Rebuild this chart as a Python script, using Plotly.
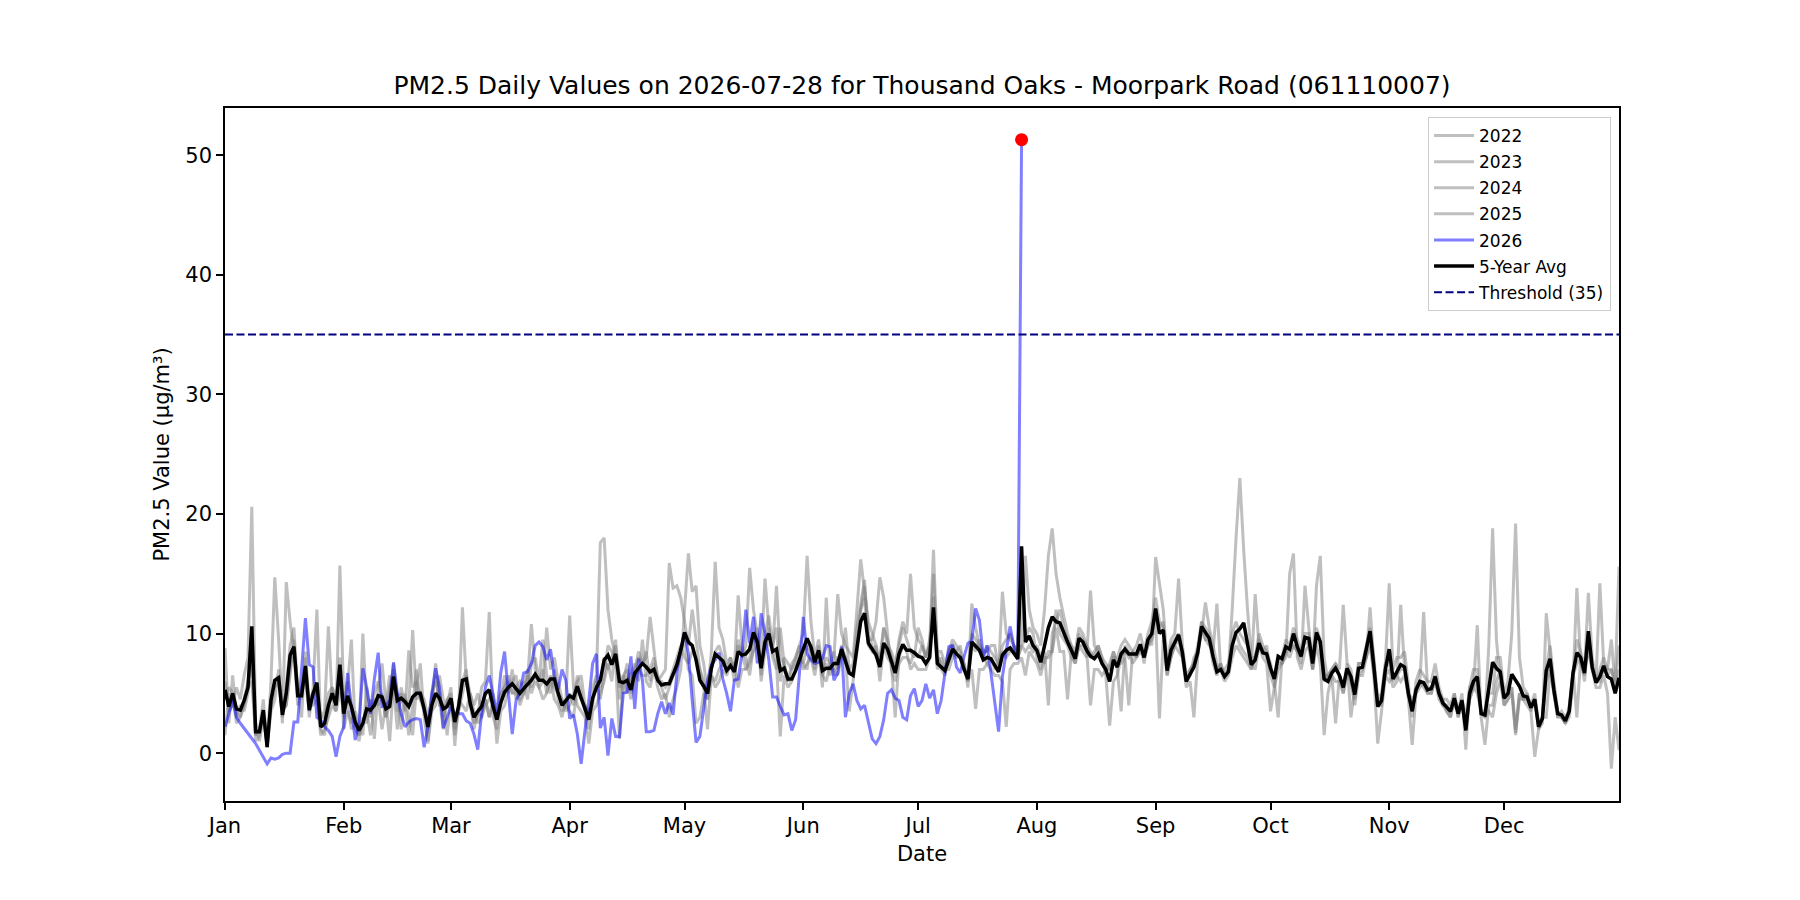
import pandas as pd
import plotly.graph_objects as go

TITLE = "PM2.5 Daily Values on 2026-07-28 for Thousand Oaks - Moorpark Road (061110007)"
YEAR_AXIS = 2026
THRESHOLD = 35

# ---- gray history lines (one value per day, Jan..Dec; one row per month) ----
y2022 = [
    6.0,3.5,4.0,5.5,4.5,6.5,8.0,20.6,2.5,1.0,3.0,0.8,4.0,5.5,6.0,3.0,5.5,9.0,10.5,5.0,4.5,8.0,3.0,5.5,12.0,2.0,1.5,3.5,5.5,4.0,6.0,
    3.0,5.5,9.5,2.0,1.5,2.5,4.0,3.0,5.0,6.0,4.5,3.0,4.0,7.5,4.5,5.0,3.5,8.6,5.5,6.0,4.5,3.5,2.0,5.0,6.0,5.0,3.0,4.5,
    5.0,2.0,4.0,6.0,7.0,4.0,2.5,3.0,5.5,6.0,11.8,3.0,2.0,4.5,6.5,5.0,7.0,4.5,5.5,6.0,4.5,7.5,8.0,6.0,9.5,6.5,5.0,7.0,4.5,3.5,4.0,
    5.0,4.0,6.5,5.0,3.5,2.0,4.5,6.0,5.5,8.0,7.0,8.0,9.0,6.5,5.0,6.5,4.5,7.0,8.0,7.5,8.5,6.0,7.5,6.0,6.5,7.0,15.9,13.8,14.0,13.0,
    11.0,9.0,12.0,9.5,7.0,6.0,4.5,7.0,8.5,9.0,8.0,7.0,8.0,6.0,9.5,8.0,9.0,15.5,12.0,10.0,6.5,10.0,11.5,9.0,10.5,6.0,8.0,7.5,7.0,8.0,9.0,
    10.0,16.5,11.0,8.0,9.5,7.0,8.0,7.5,8.5,7.0,9.0,8.0,7.0,6.5,9.5,12.0,14.0,10.0,9.0,8.5,8.0,10.5,9.5,8.0,7.0,9.5,11.0,10.0,15.0,10.5,
    9.5,9.0,8.0,9.0,15.0,8.0,7.5,7.0,8.5,9.5,9.0,8.5,7.0,6.5,10.0,9.5,9.0,8.0,9.0,8.5,8.0,7.5,9.0,9.5,10.0,9.0,8.5,9.5,16.5,12.0,10.5,
    10.0,9.0,12.0,16.5,18.8,15.0,13.0,11.5,10.0,9.0,8.0,10.0,9.5,9.0,8.5,8.0,9.0,8.0,7.5,7.0,8.0,8.0,9.0,9.5,9.0,8.5,9.0,10.0,8.5,10.0,11.0,
    13.0,11.0,10.5,7.0,9.0,9.5,10.0,8.5,6.0,7.0,7.5,9.0,11.0,10.5,10.0,8.0,7.0,7.5,6.5,7.0,12.0,18.0,23.0,17.0,12.0,8.0,8.0,10.0,9.0,8.5,
    7.5,6.0,3.0,8.0,9.5,9.0,10.5,9.5,8.5,10.0,10.0,8.0,10.5,9.5,6.5,6.5,7.0,7.5,7.0,12.4,7.5,7.0,5.0,7.5,7.5,9.0,10.5,8.0,4.5,5.0,7.5,
    14.2,7.0,8.0,8.0,8.5,5.5,3.0,6.0,7.0,6.5,6.0,6.0,7.5,5.5,4.5,4.5,4.0,5.0,3.5,5.0,0.3,5.5,7.0,7.0,3.5,3.5,5.0,5.0,8.0,8.0,
    5.0,6.0,10.0,19.2,8.0,5.5,5.0,4.0,5.0,2.5,3.0,7.0,9.0,6.0,3.5,3.0,2.5,4.0,7.0,9.5,8.5,7.0,13.4,8.0,6.0,7.0,8.0,7.0,7.0,5.5,7.0,
]
y2023 = [
    8.8,2.5,6.5,3.0,4.0,3.5,5.0,8.5,1.5,2.0,4.5,0.5,6.0,14.7,9.5,3.5,4.0,7.0,9.0,5.5,3.0,8.5,4.0,4.0,4.5,1.5,2.0,3.0,4.0,3.5,15.7,
    4.5,6.0,3.5,3.0,1.0,3.0,2.5,4.5,1.2,5.5,7.5,4.5,1.0,6.0,5.0,2.0,5.0,3.0,1.5,5.5,7.5,3.0,0.8,3.5,4.0,6.5,4.5,1.5,
    4.5,1.5,3.5,5.0,6.5,5.0,3.5,2.5,3.0,4.0,4.5,5.0,0.8,3.5,4.0,5.5,6.0,6.5,4.0,5.0,6.0,10.8,7.0,5.5,4.5,5.0,6.5,4.5,4.0,3.0,4.5,
    11.5,5.5,4.0,3.5,3.0,0.8,3.5,4.0,5.0,6.0,7.5,6.0,9.5,4.5,6.5,5.0,6.5,7.5,6.0,9.5,6.0,5.5,7.0,5.5,4.5,5.0,3.0,4.5,5.5,7.0,
    12.0,16.7,13.5,14.0,9.0,7.5,5.0,8.5,16.0,10.5,9.5,7.5,8.0,7.0,9.0,8.5,7.0,8.0,9.5,10.0,7.5,9.0,10.5,8.5,14.0,8.0,7.5,6.0,7.5,8.0,9.0,
    7.5,9.0,8.5,7.0,9.0,6.5,7.5,6.5,8.0,13.3,10.0,9.0,8.5,8.0,12.0,16.2,13.5,11.0,10.0,9.0,7.5,10.5,9.0,8.5,7.5,9.0,10.5,9.5,8.5,8.0,
    10.5,9.5,8.0,9.0,17.0,8.5,7.0,6.5,8.0,9.0,8.5,8.0,7.5,5.5,12.5,10.5,9.0,8.5,8.5,9.0,9.0,7.0,13.5,10.0,9.5,9.0,8.0,9.0,9.5,10.5,10.0,
    8.0,7.0,8.5,4.0,10.0,11.0,12.0,10.5,9.5,9.0,8.5,10.5,10.0,9.0,8.0,8.5,9.0,8.0,6.5,2.3,6.0,6.5,8.0,8.5,8.0,8.5,8.0,9.0,7.5,9.5,9.0,
    16.4,14.0,12.0,7.5,9.5,10.0,14.6,9.0,6.5,7.0,7.5,8.5,10.0,12.6,10.5,9.0,7.5,7.0,7.0,7.5,9.0,10.0,9.0,8.5,8.0,7.0,8.0,9.5,8.5,9.0,
    6.5,5.5,7.5,7.5,8.5,8.0,9.0,8.5,8.0,9.5,9.0,7.0,14.0,16.5,8.0,6.0,6.5,2.5,6.5,5.0,7.0,6.0,4.5,6.5,7.0,8.0,9.5,6.5,0.8,3.5,6.5,
    7.0,5.5,6.0,12.4,7.0,4.5,0.7,5.0,5.5,6.0,5.0,5.0,6.0,4.5,4.0,3.5,3.0,4.5,3.0,4.0,2.0,4.5,5.5,10.7,3.0,0.7,4.0,4.0,6.0,7.0,
    4.0,4.5,5.5,2.0,5.0,4.5,4.0,3.5,4.5,2.0,2.5,11.7,8.5,5.0,3.0,3.5,3.0,3.5,6.5,7.5,8.0,6.0,10.0,7.0,5.5,5.5,6.5,5.0,-1.3,3.0,0.25,
]
y2024 = [
    4.5,5.5,5.0,2.5,3.0,4.5,6.0,7.5,1.0,1.5,3.5,0.5,3.5,4.5,7.0,2.5,14.3,11.0,8.5,4.0,5.5,6.5,4.5,5.0,5.0,3.0,3.0,5.0,5.5,4.5,8.0,
    2.0,3.5,2.5,3.5,2.5,1.5,5.5,3.5,4.5,4.0,5.0,3.0,5.5,7.0,3.5,4.5,4.5,4.0,10.3,4.5,5.0,4.5,3.0,4.5,6.5,4.0,4.0,4.0,
    5.5,0.6,4.5,4.0,3.5,5.0,4.0,5.0,3.5,4.5,3.0,4.5,3.0,4.0,5.5,6.5,5.0,5.5,6.0,5.5,7.0,5.0,6.0,5.5,6.0,10.5,7.0,8.0,6.0,4.5,3.5,
    4.0,5.0,6.0,6.5,4.0,3.0,5.5,6.5,17.6,18.0,12.0,9.5,8.0,5.5,6.0,7.5,5.0,6.0,7.0,6.5,6.5,7.0,8.0,6.5,5.5,4.5,5.5,6.5,7.0,8.5,
    9.5,7.0,6.5,2.5,3.0,5.0,4.5,6.5,5.5,6.0,7.0,6.5,7.5,7.0,13.2,9.0,8.0,6.5,9.0,10.5,6.0,8.5,9.5,8.5,7.5,1.4,6.5,5.5,6.0,7.0,8.0,
    7.0,7.5,8.0,6.5,8.5,5.5,13.0,7.0,7.0,6.5,8.0,8.0,3.5,6.0,8.5,12.0,13.0,9.0,8.5,9.0,6.0,9.0,8.0,7.5,3.0,8.0,9.0,8.5,7.0,7.5,
    7.0,7.0,7.0,8.0,13.1,7.0,8.0,7.0,7.0,8.0,8.5,9.0,7.0,6.0,7.0,3.7,7.0,7.0,7.5,7.0,6.5,6.5,6.0,2.2,7.0,7.5,7.5,8.0,6.5,8.5,8.0,
    7.5,6.5,8.0,8.0,8.5,12.0,10.0,9.5,9.0,8.0,7.5,9.0,8.5,8.0,13.6,9.0,8.5,7.5,7.0,7.0,8.5,7.0,3.5,9.0,8.5,7.5,8.0,8.5,8.0,9.0,9.5,
    11.0,2.9,9.5,6.5,8.0,9.0,8.5,8.0,5.5,6.0,3.0,8.0,11.0,9.5,9.0,8.5,12.5,7.0,6.0,6.5,8.0,9.0,8.5,8.0,7.5,7.0,13.3,9.0,8.0,7.5,
    3.5,5.5,7.0,7.5,8.0,15.0,16.7,8.0,7.0,8.5,9.0,7.0,9.0,7.5,1.5,5.0,6.5,6.0,6.0,5.0,6.5,6.0,4.0,6.5,6.5,8.0,9.0,6.5,4.0,4.0,6.5,
    6.0,6.5,6.5,6.0,6.5,5.0,4.5,5.0,6.0,11.8,5.5,5.5,6.0,5.0,4.0,4.0,3.5,4.0,3.5,4.5,2.5,4.5,5.5,5.0,3.5,3.0,3.5,3.0,5.0,6.0,
    4.5,5.0,5.5,1.5,5.0,4.5,4.5,4.0,4.5,2.5,3.0,6.0,7.0,5.0,3.5,3.0,2.5,3.0,6.0,13.8,7.5,6.5,9.0,7.0,6.0,6.0,7.0,6.5,7.0,6.0,15.6,
]
y2025 = [
    1.5,5.0,4.5,3.5,3.0,4.0,5.5,6.0,1.5,2.0,3.0,0.8,4.5,6.0,6.5,3.5,4.0,6.5,9.5,5.0,5.5,6.0,3.5,4.5,5.5,3.0,3.5,10.6,4.5,3.5,5.0,
    5.0,4.0,2.0,2.5,1.5,10.0,3.5,1.5,4.0,4.5,2.0,4.0,6.5,5.5,2.0,5.5,4.0,1.5,4.0,7.0,4.5,4.0,1.0,4.0,7.5,4.5,2.0,4.5,
    4.0,2.5,3.5,12.2,6.0,4.5,2.0,3.5,3.0,4.5,3.0,4.0,3.5,5.0,5.5,6.0,5.0,5.0,4.5,5.0,6.5,5.5,6.5,6.0,7.0,5.0,6.0,5.5,5.0,4.5,4.0,
    3.5,3.0,5.5,4.5,4.0,3.5,4.0,6.5,4.5,6.5,9.0,8.5,7.5,1.2,6.5,7.0,5.5,7.0,8.5,7.5,8.0,11.4,8.5,6.0,6.0,5.5,6.0,7.0,8.0,9.0,
    8.0,7.5,8.5,8.0,7.0,5.5,2.0,6.5,6.0,7.0,7.5,7.0,7.5,7.5,5.5,7.0,7.0,7.5,8.5,9.0,8.0,14.6,10.5,8.0,7.0,10.5,7.5,6.0,7.0,7.5,8.5,
    7.5,7.0,9.0,8.0,8.5,6.5,6.0,7.5,6.5,8.0,8.0,10.5,7.0,7.5,10.5,12.5,14.5,9.5,9.5,11.0,14.7,13.0,10.0,7.0,6.0,7.5,8.0,8.0,7.5,8.5,
    8.0,9.0,8.0,9.5,11.0,8.5,8.5,7.5,8.5,9.0,8.0,8.0,7.5,6.0,9.0,8.5,9.5,8.0,7.5,8.0,7.0,7.5,8.5,8.0,8.5,9.0,8.0,9.0,8.5,9.0,8.5,
    9.0,8.0,7.5,8.5,8.5,10.5,8.5,8.5,4.5,8.5,7.5,9.0,9.0,8.5,4.0,7.0,7.0,6.5,7.0,7.5,8.5,7.5,7.5,8.0,4.0,8.5,8.0,9.0,8.0,9.0,10.0,
    11.5,10.5,11.0,6.5,8.0,9.0,9.5,8.0,6.0,6.5,8.0,8.5,10.5,9.5,9.5,7.5,6.5,7.5,6.5,7.0,10.0,11.0,10.0,9.5,9.0,7.5,7.0,9.0,8.5,8.0,
    7.0,6.5,8.0,7.5,8.5,8.5,9.0,8.5,7.5,14.0,10.5,7.0,9.5,9.0,6.0,6.5,7.0,7.5,6.5,5.5,7.5,3.0,5.5,7.5,7.5,8.0,12.2,7.5,4.5,4.5,7.5,
    7.5,6.0,6.5,7.0,7.0,5.0,3.5,5.5,6.0,5.5,5.0,5.0,6.5,5.0,4.5,3.5,3.0,5.0,3.0,4.5,3.0,5.5,6.0,5.5,3.5,3.0,9.0,18.8,9.5,6.0,
    4.0,4.5,5.0,1.7,4.5,4.5,5.0,3.5,-0.3,2.0,3.0,3.0,7.0,5.0,3.0,3.0,2.5,3.5,7.0,3.0,8.0,7.0,8.5,7.0,6.0,14.2,7.5,7.0,9.5,5.5,9.0,
]

# ---- current year (Jan 1 .. Jul 28); None = no reading that day ----
y2026 = [
    2.2,3.3,4.4,3.0,2.5,None,None,None,0.8,None,None,-0.9,-0.4,-0.5,-0.4,-0.1,0.0,0.0,2.6,2.6,7.0,11.3,7.4,7.2,3.0,2.8,2.2,1.9,1.4,-0.3,1.4,
    2.2,6.7,4.0,1.1,2.5,7.1,5.5,3.3,6.2,8.4,3.9,4.0,4.4,7.6,5.0,3.3,2.2,2.6,2.8,2.9,2.8,0.5,2.2,5.0,7.1,5.5,2.1,3.0,
    3.9,3.3,3.3,3.3,2.7,2.5,1.6,0.3,3.3,5.5,6.5,5.0,3.3,6.7,8.5,5.0,1.6,4.4,5.1,6.7,6.8,7.5,9.0,9.3,8.9,7.8,8.7,6.4,5.3,7.0,6.1,
    2.9,3.2,1.6,-0.9,1.9,4.4,7.5,8.3,2.1,3.0,-0.2,2.9,1.4,1.4,5.0,5.1,8.1,3.7,7.9,6.1,1.8,1.8,1.9,3.3,4.3,3.3,4.2,3.2,6.7,8.6,
    10.1,8.3,4.4,0.9,1.4,3.9,6.1,7.4,7.8,8.4,6.2,5.0,3.5,6.1,6.2,8.3,12.0,9.2,11.4,7.5,11.7,10.0,7.8,4.7,4.7,3.9,3.2,3.3,1.9,2.8,6.7,
    11.4,8.3,7.8,7.5,7.6,7.9,9.0,8.9,6.1,6.7,8.9,3.0,5.0,5.8,4.4,3.7,4.0,2.5,1.2,0.8,1.4,2.8,5.0,5.3,4.6,4.4,3.0,2.8,4.8,5.4,
    3.9,4.4,5.8,4.6,5.3,3.3,4.4,6.7,8.9,9.0,7.2,6.7,8.1,9.2,9.4,12.1,11.1,8.1,9.0,6.7,4.4,1.8,6.4,8.6,10.6,8.9,7.8,51.3,
]

# ---- 5-year average ----
avg5 = [
    5.3,3.9,5.0,3.7,3.6,4.4,5.5,10.6,1.8,1.8,3.6,0.5,4.4,6.1,6.3,3.2,5.0,8.2,8.9,4.8,4.8,7.3,3.6,5.0,5.9,2.2,2.5,4.0,5.0,4.0,7.4,
    3.3,4.8,3.9,2.6,1.9,2.5,3.7,3.6,4.0,4.8,4.7,3.7,3.9,6.4,4.4,4.6,4.3,3.9,4.7,5.0,5.0,3.7,2.2,4.0,5.0,4.6,3.7,3.9,
    4.6,2.6,3.9,6.1,6.2,4.2,3.0,3.5,3.9,5.0,5.3,3.9,2.8,4.2,5.1,5.5,5.8,5.4,5.0,5.4,5.7,6.1,6.6,6.1,6.1,5.8,6.2,6.2,5.0,4.0,4.4,
    4.8,4.6,5.6,4.6,3.7,2.8,4.6,5.5,6.1,7.8,8.2,7.4,8.3,6.0,5.9,6.1,5.3,6.7,7.1,7.5,7.2,6.8,7.0,6.1,5.7,5.8,5.8,6.7,7.4,8.6,
    10.1,9.3,9.0,7.8,6.1,5.6,5.0,7.1,8.3,8.0,7.7,6.9,7.3,6.8,8.5,8.2,8.3,8.7,10.1,9.3,7.1,9.3,10.0,8.5,8.7,6.9,7.1,6.2,6.2,6.9,7.8,
    8.7,9.6,8.9,7.6,8.6,6.9,7.1,7.1,7.5,7.5,8.7,7.6,6.7,6.5,9.0,11.0,11.7,9.2,8.7,8.2,7.2,9.2,8.7,7.8,6.7,8.3,9.1,8.6,8.6,8.4,
    8.1,8.0,7.5,8.0,12.2,7.5,7.2,6.9,7.8,8.7,8.3,8.0,7.0,6.2,9.3,8.9,8.6,7.8,8.0,7.9,7.3,6.8,8.2,8.6,8.8,8.4,7.9,17.3,9.3,9.8,9.0,
    8.6,7.6,9.0,10.5,11.4,11.0,10.9,10.0,9.3,8.6,7.9,9.6,9.3,8.6,8.1,7.9,8.3,7.5,7.0,6.0,7.8,7.2,8.3,8.7,8.3,8.3,8.3,9.1,8.0,9.5,10.0,
    12.1,10.0,10.3,6.9,8.6,9.3,9.9,8.4,6.0,6.6,7.2,8.4,10.6,10.1,9.6,8.1,6.8,7.0,6.4,6.8,9.0,10.1,10.4,10.9,9.3,7.4,7.8,9.2,8.4,8.3,
    7.1,6.2,8.1,7.9,8.9,8.7,10.0,8.9,8.1,9.7,9.6,7.5,10.1,9.3,6.2,6.0,6.7,7.1,6.5,5.5,7.1,6.4,4.9,7.1,7.2,8.6,10.2,7.2,3.9,4.4,7.0,
    8.7,6.2,6.8,7.4,7.2,5.0,3.5,5.3,6.0,5.9,5.3,5.4,6.4,5.0,4.2,3.9,3.5,4.6,3.3,4.4,1.9,5.0,6.0,6.4,3.3,3.2,5.3,7.6,7.1,6.8,
    4.6,5.0,6.6,6.1,5.6,4.8,4.7,3.8,4.5,2.2,2.9,6.9,7.9,5.3,3.3,3.2,2.7,3.5,6.7,8.4,8.0,6.7,10.2,7.2,5.9,6.4,7.3,6.4,6.2,5.0,6.3,
]

history = {"2022": y2022, "2023": y2023, "2024": y2024, "2025": y2025}

dates = pd.date_range(f"{YEAR_AXIS}-01-01", f"{YEAR_AXIS}-12-31", freq="D")
for name, s in list(history.items()) + [("avg", avg5)]:
    assert len(s) == len(dates), (name, len(s))

FONT = "DejaVu Sans"
fig = go.Figure()

for name, vals in history.items():
    fig.add_trace(go.Scatter(
        x=dates, y=vals, mode="lines", name=name,
        line=dict(color="rgba(128,128,128,0.5)", width=3),
        legendgroup=name,
    ))

cur_dates = dates[: len(y2026)]
fig.add_trace(go.Scatter(
    x=cur_dates, y=y2026, mode="lines", name="2026", connectgaps=True,
    line=dict(color="rgba(0,0,255,0.5)", width=3), legendgroup="2026",
))

fig.add_trace(go.Scatter(
    x=dates, y=avg5, mode="lines", name="5-Year Avg",
    line=dict(color="black", width=3.5), legendgroup="avg",
))

fig.add_trace(go.Scatter(
    x=[dates[0], dates[-1]], y=[THRESHOLD, THRESHOLD], mode="lines",
    name=f"Threshold ({THRESHOLD})",
    line=dict(color="#000080", width=2, dash="8px,3.5px"), legendgroup="thr",
))

fig.add_trace(go.Scatter(
    x=[cur_dates[-1]], y=[y2026[-1]], mode="markers", showlegend=False,
    marker=dict(color="red", size=13, line=dict(width=0)),
))

month_starts = pd.date_range(f"{YEAR_AXIS}-01-01", periods=12, freq="MS")

axis_common = dict(
    showline=True, linecolor="black", linewidth=1.6, mirror=True,
    showgrid=False, zeroline=False, ticks="outside", ticklen=7,
    tickwidth=1.6, tickcolor="black",
    tickfont=dict(family=FONT, size=21, color="black"),
)

fig.update_layout(
    width=1800, height=900,
    margin=dict(l=225, r=181, t=108, b=99, autoexpand=False),
    paper_bgcolor="white", plot_bgcolor="white",
    font=dict(family=FONT, color="black"),
    title=dict(text=TITLE, x=(225 + 1394 / 2) / 1800, xanchor="center",
               y=(900 - 94) / 900, yanchor="bottom", yref="container",
               font=dict(family=FONT, size=25, color="black")),
    xaxis=dict(
        range=[dates[0], dates[-1]], tickvals=month_starts, tickformat="%b",
        ticklabelstandoff=-2,
        title=dict(text="Date", standoff=9, font=dict(family=FONT, size=21, color="black")),
        **axis_common,
    ),
    yaxis=dict(
        range=[-4.0, 53.95], tickmode="linear", tick0=0, dtick=10,
        title=dict(text="PM2.5 Value (µg/m³)", standoff=10, font=dict(family=FONT, size=21, color="black")),
        **axis_common,
    ),
    legend=dict(
        x=0.9943, y=0.987, xanchor="right", yanchor="top",
        bgcolor="rgba(255,255,255,0.8)", bordercolor="#cccccc", borderwidth=1,
        font=dict(family=FONT, size=17, color="black"),
        tracegroupgap=1, itemwidth=40,
    ),
    showlegend=True,
)

fig.write_html("out.html")
